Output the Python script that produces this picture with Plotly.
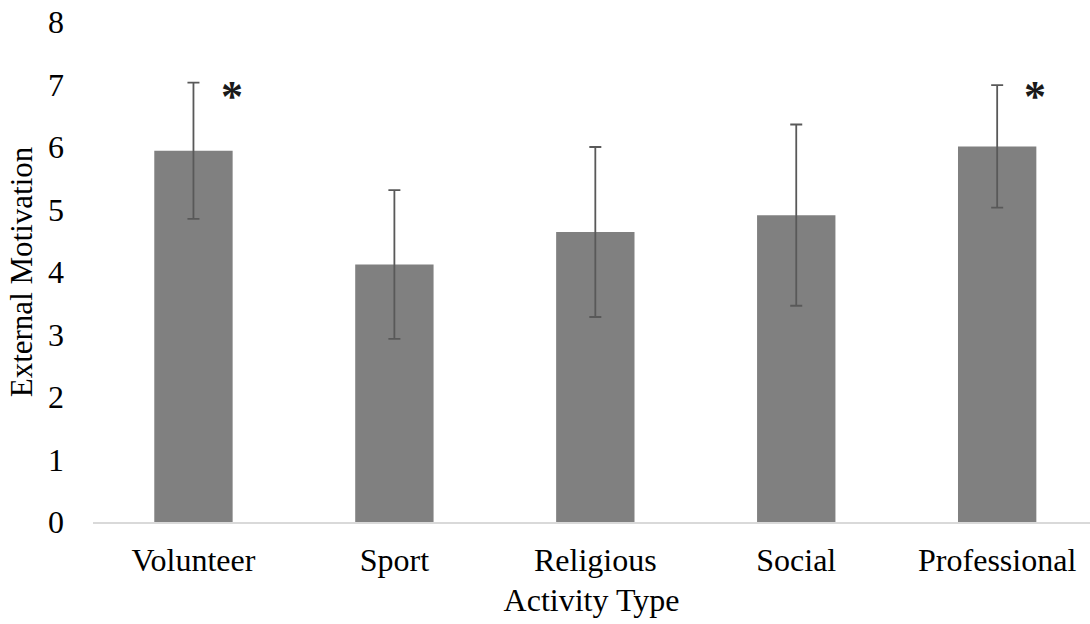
import plotly.graph_objects as go

# Mean external motivation by activity type, with standard deviations
categories = ["Volunteer", "Sport", "Religious", "Social", "Professional"]
means = [5.94, 4.12, 4.64, 4.91, 6.01]
errors = [1.09, 1.19, 1.36, 1.45, 0.98]
significant = ["Volunteer", "Professional"]

y_ticks = [0, 1, 2, 3, 4, 5, 6, 7, 8]

FONT = "Liberation Serif"
SIZE = 32

fig = go.Figure()
fig.add_trace(
    go.Bar(
        x=categories,
        y=means,
        width=0.39,
        marker=dict(color="#808080", line=dict(width=0)),
        error_y=dict(
            type="data",
            array=errors,
            visible=True,
            color="#595959",
            thickness=1.8,
            width=6,
        ),
        showlegend=False,
    )
)

# Significance markers placed just right of the bar's top corner
for cat in significant:
    i = categories.index(cat)
    fig.add_annotation(
        x=i + 0.19,
        y=6.88,
        xref="x",
        yref="y",
        text="<b>*</b>",
        showarrow=False,
        xanchor="center",
        yanchor="middle",
        yshift=-4,
        font=dict(family=FONT, size=44, color="#1a1a1a"),
    )

fig.update_layout(
    width=1090,
    height=624,
    margin=dict(l=93, r=0, t=22, b=102),
    paper_bgcolor="white",
    plot_bgcolor="white",
    font=dict(family=FONT, size=SIZE, color="black"),
    bargap=0.61,
)

fig.update_xaxes(
    type="category",
    range=[-0.5, 4.462],
    showline=True,
    linecolor="#d9d9d9",
    linewidth=2,
    showgrid=False,
    ticks="",
    ticklabelstandoff=9,
    title=dict(text="Activity Type", font=dict(family=FONT, size=SIZE, color="black"), standoff=11),
    tickfont=dict(family=FONT, size=SIZE, color="black"),
)

fig.update_yaxes(
    range=[0, 8],
    tickvals=y_ticks,
    showline=False,
    showgrid=False,
    zeroline=False,
    ticks="",
    ticklabelstandoff=28,
    title=dict(text="External Motivation", font=dict(family=FONT, size=31, color="black"), standoff=6),
    tickfont=dict(family=FONT, size=SIZE, color="black"),
)

fig.write_html("out.html")
